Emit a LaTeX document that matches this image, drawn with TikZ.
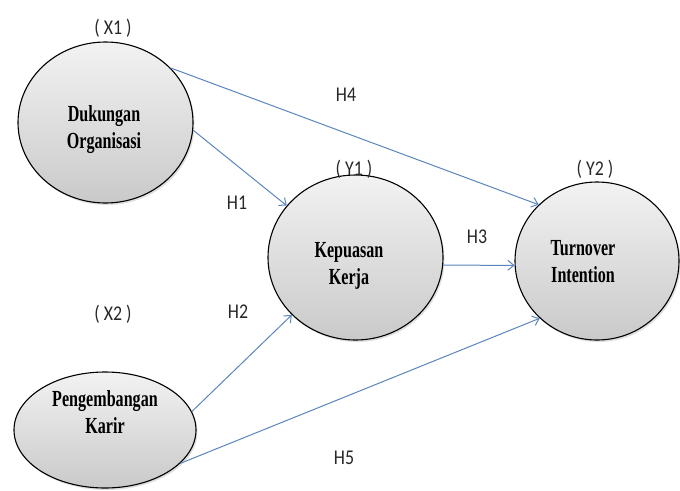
\documentclass[tikz,border=0pt]{standalone}
\usepackage{fontspec}
\setmainfont{Liberation Serif}
\newfontfamily\ellfont[FakeStretch=0.70]{Liberation Serif}
\newfontfamily\labfont[FakeStretch=0.85]{Carlito}
\usetikzlibrary{arrows.meta,shadows,shapes.geometric}
\definecolor{arrowblue}{RGB}{92,134,190}
\definecolor{labgray}{RGB}{40,40,40}
\begin{document}
\begin{tikzpicture}[x=1pt,y=-1pt,
  latent/.style={ellipse, draw=black, line width=1.1pt, inner sep=0pt,
    top color=gray!10, bottom color=gray!42,
    drop shadow={opacity=0.25, shadow xshift=1.5pt, shadow yshift=-2pt}},
  nm/.style={font=\ellfont\bfseries\fontsize{23}{27}\selectfont, align=center, text=black},
  lab/.style={font=\labfont\fontsize{21}{23}\selectfont, text=labgray},
  hyp/.style={draw=arrowblue, line width=1pt, -{Straight Barb[length=6pt,width=10pt]}}]
\useasboundingbox (0,0) rectangle (680,490);
\fill[white] (0,0) rectangle (680,490);

% latent variables
\node[latent, minimum width=175pt, minimum height=161pt] (X1) at (105.5,122.5) {};
\node[latent, minimum width=175pt, minimum height=165pt] (Y1) at (355.5,257.5) {};
\node[latent, minimum width=164pt, minimum height=158pt] (Y2) at (597,261) {};
\node[latent, minimum width=182pt, minimum height=116pt] (X2) at (105,430) {};

% names
\node[nm] (X1t) at (104,130) {Dukungan\\Organisasi};
\node[nm] (Y1t) at (349,266) {Kepuasan\\Kerja};
\node[nm] (Y2t) at (583,262) {Turnover\\Intention};
\node[nm] (X2t) at (105,412) {Pengembangan\\Karir};

% variable labels
\node[lab] (X1l) at (113,28) {( X1 )};
\node[lab] (Y1l) at (354,169) {( Y1 )};
\node[lab] (Y2l) at (595,169) {( Y2 )};
\node[lab] (X2l) at (113,314) {( X2 )};

% hypotheses
\draw[hyp] (X1.40) -- (Y2.136);
\draw[hyp] (X1.-5) -- (Y1.143);
\draw[hyp] (Y1.-5) -- (Y2.183);
\draw[hyp] (X2.12) -- (Y1.222);
\draw[hyp] (X2.-24) -- (Y2.225);

\node[lab] (H4) at (346,95) {H4};
\node[lab] (H1) at (237,203) {H1};
\node[lab] (H2) at (238,312) {H2};
\node[lab] (H3) at (477,237) {H3};
\node[lab] (H5) at (344,458) {H5};
\end{tikzpicture}
\end{document}
